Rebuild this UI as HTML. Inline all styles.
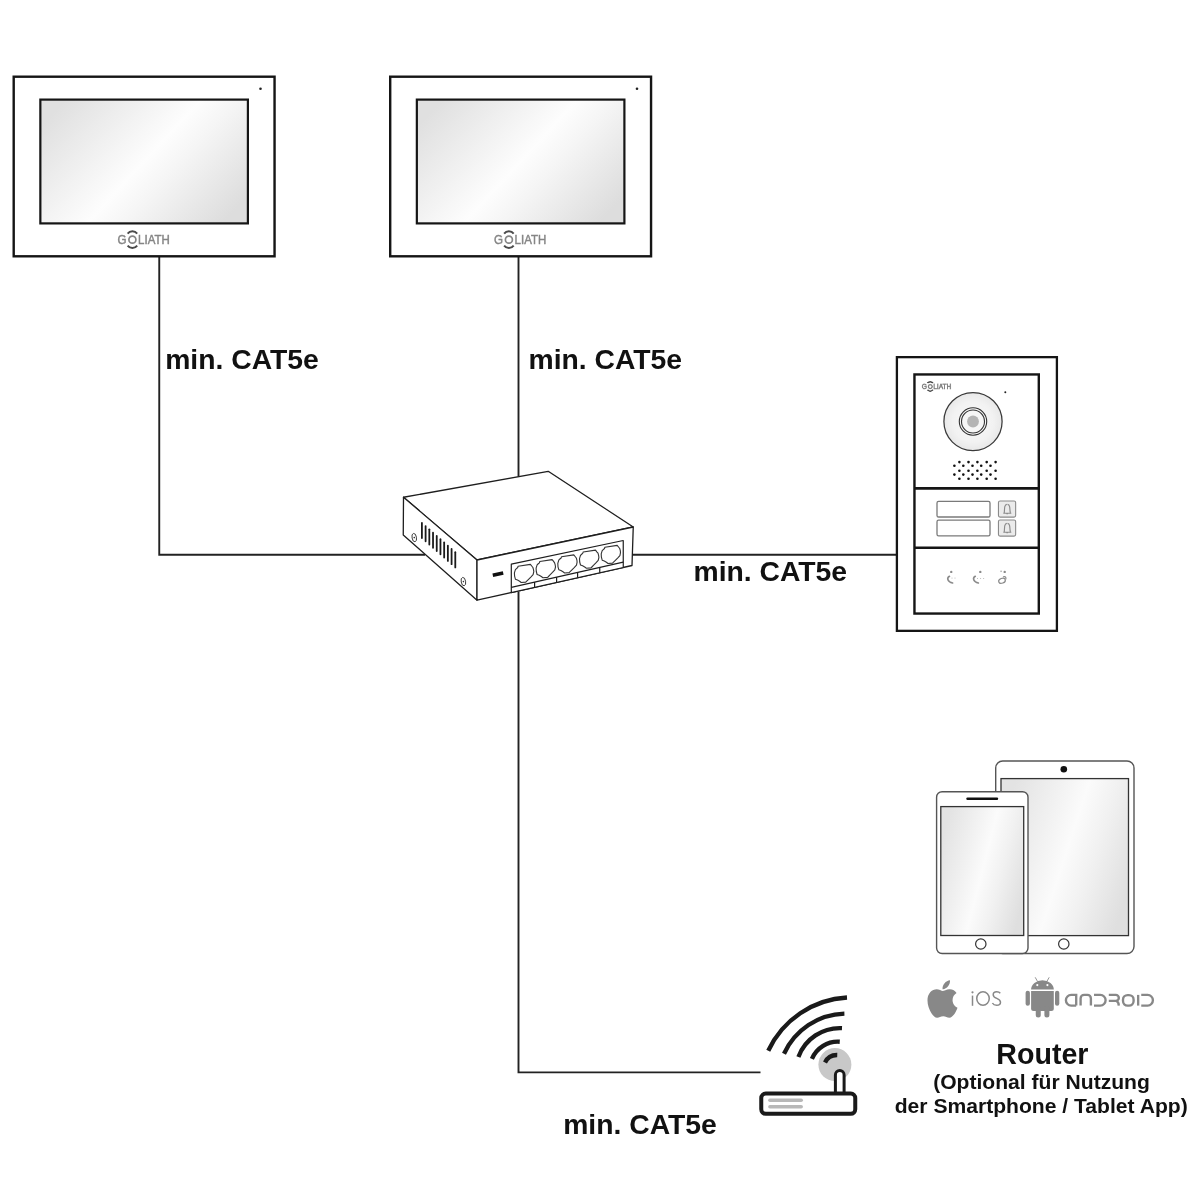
<!DOCTYPE html>
<html><head><meta charset="utf-8">
<style>
html,body{margin:0;padding:0;background:#fff;width:1200px;height:1200px;overflow:hidden}
svg{position:absolute;left:0;top:0;will-change:transform}
text{font-family:"Liberation Sans",sans-serif}
</style></head><body>
<svg width="1200" height="1200" viewBox="0 0 1200 1200">
<defs>
<linearGradient id="scrm" x1="0" y1="0.225" x2="1" y2="0.775">
<stop offset="0" stop-color="#e0e0e0"/><stop offset="0.36" stop-color="#f5f5f5"/><stop offset="0.5" stop-color="#fdfdfd"/><stop offset="0.64" stop-color="#f5f5f5"/><stop offset="1" stop-color="#dddddd"/>
</linearGradient>
<linearGradient id="scr" x1="0" y1="0.3" x2="1" y2="0.7">
<stop offset="0" stop-color="#e3e3e3"/><stop offset="0.3" stop-color="#f1f1f1"/><stop offset="0.5" stop-color="#fbfbfb"/><stop offset="0.7" stop-color="#f1f1f1"/><stop offset="1" stop-color="#dfdfdf"/>
</linearGradient>
<radialGradient id="cam" cx="0.5" cy="0.5" r="0.5">
<stop offset="0" stop-color="#fafafa"/><stop offset="0.7" stop-color="#f2f2f2"/><stop offset="1" stop-color="#e8e8e8"/>
</radialGradient>
<g id="logo">
<text x="117.6" y="243.8" font-size="12.6" fill="#858585" stroke="#858585" stroke-width="0.45" textLength="9.0" lengthAdjust="spacingAndGlyphs">G</text>
<circle cx="132.4" cy="239.7" r="3.5" fill="none" stroke="#858585" stroke-width="1.7"/>
<path d="M127.61,233.6 A6,6 0 0 1 137.19,233.6" fill="none" stroke="#4a4a4a" stroke-width="1.9"/>
<path d="M127.61,245.6 A6,6 0 0 0 137.19,245.6" fill="none" stroke="#4a4a4a" stroke-width="1.9"/>
<text x="138.1" y="243.8" font-size="12.6" fill="#858585" stroke="#858585" stroke-width="0.45" textLength="31.7" lengthAdjust="spacingAndGlyphs">LIATH</text>
</g>
<g id="logo2">
<text x="117.6" y="243.8" font-size="12.6" fill="#808080" stroke="#808080" stroke-width="1.0" textLength="9.0" lengthAdjust="spacingAndGlyphs">G</text>
<circle cx="132.4" cy="239.7" r="3.4" fill="none" stroke="#808080" stroke-width="2.3"/>
<path d="M127.61,233.6 A6,6 0 0 1 137.19,233.6" fill="none" stroke="#4a4a4a" stroke-width="2.5"/>
<path d="M127.61,245.6 A6,6 0 0 0 137.19,245.6" fill="none" stroke="#4a4a4a" stroke-width="2.5"/>
<text x="138.1" y="243.8" font-size="12.6" fill="#808080" stroke="#808080" stroke-width="1.0" textLength="31.7" lengthAdjust="spacingAndGlyphs">LIATH</text>
</g>
</defs>

<!-- cables -->
<g stroke="#222" stroke-width="1.9" fill="none">
<polyline points="159.25,257 159.25,554.8 425,554.8"/>
<line x1="518.5" y1="257" x2="518.5" y2="476.5"/>
<line x1="633" y1="554.8" x2="897" y2="554.8"/>
<polyline points="518.5,592 518.5,1072.4 760.5,1072.4"/>
</g>

<!-- monitor 1 -->
<g id="mon1">
<rect x="13.7" y="76.7" width="260.85" height="179.6" fill="#fff" stroke="#151515" stroke-width="2.4"/>
<rect x="40.35" y="99.6" width="207.55" height="123.8" fill="url(#scrm)" stroke="#151515" stroke-width="2.2"/>
<circle cx="260.5" cy="88.8" r="1.3" fill="#222"/>
<use href="#logo"/>
</g>
<use href="#mon1" x="376.5" y="0"/>

<!-- labels -->
<g font-weight="bold" font-size="28.3" fill="#111">
<text x="165.2" y="368.7">min. CAT5e</text>
<text x="528.5" y="368.7">min. CAT5e</text>
<text x="693.5" y="580.8">min. CAT5e</text>
<text x="563.2" y="1134.2">min. CAT5e</text>
</g>
<g font-weight="bold" fill="#111" text-anchor="middle">
<text x="1042.4" y="1064" font-size="28.6">Router</text>
<text x="1041.5" y="1089.2" font-size="21.1">(Optional für Nutzung</text>
<text x="1041.2" y="1112.6" font-size="21.1">der Smartphone / Tablet App)</text>
</g>

<!-- switch -->
<g id="switch" stroke="#1e1e1e" stroke-width="1.3" fill="#fff" stroke-linejoin="round">
<polygon points="403.5,497.25 548.2,471.3 633.25,527 477,560"/>
<polygon points="403.5,497.25 477,560 477,600.2 403.25,535"/>
<polygon points="477,560 633.25,527 632,565.5 477,600.2"/>
<polygon points="511.3,564.2 623.25,540.5 623.25,567.5 511.3,592.6" stroke-width="1.2"/>
<line x1="511.3" y1="587.3" x2="623.25" y2="562.2" stroke-width="1.2"/>
<g stroke-width="1.2">
<line x1="534.6" y1="582.1" x2="534.6" y2="587.3"/><line x1="556.6" y1="577.1" x2="556.6" y2="582.4"/><line x1="577.6" y1="572.4" x2="577.6" y2="577.7"/><line x1="599.75" y1="567.5" x2="599.75" y2="572.7"/>
</g>
<g stroke="#333" stroke-width="1.1" fill="#fff">
<polygon points="518.1,566.2 530.4,564.4 531.7,566.0 532.9,567.5 533.5,569.6 533.8,571.7 533.1,574.6 530.8,577.1 528.3,579.6 526.2,581.7 525.8,582.1 521.2,582.5 519.6,581.2 517.5,580.0 515.4,579.2 514.6,576.2 514.4,572.9 515.4,569.6 516.2,568.8 517.7,567.5"/>
<polygon points="539.8,561.5 552.1,559.6 553.4,561.2 554.6,562.8 555.2,564.9 555.5,567.0 554.8,569.9 552.5,572.4 550.0,574.9 548.0,577.0 547.5,577.4 543.0,577.8 541.3,576.5 539.2,575.2 537.1,574.5 536.3,571.5 536.1,568.1 537.1,564.9 538.0,564.0 539.4,562.8"/>
<polygon points="561.5,556.8 573.8,554.9 575.1,556.5 576.3,558.0 576.9,560.1 577.1,562.2 576.5,565.1 574.2,567.6 571.7,570.1 569.6,572.2 569.2,572.6 564.6,573.0 563.0,571.8 560.9,570.5 558.8,569.7 558.0,566.8 557.8,563.4 558.8,560.1 559.6,559.2 561.1,558.0"/>
<polygon points="583.2,552.0 595.5,550.1 596.8,551.8 598.0,553.2 598.6,555.4 598.9,557.5 598.2,560.4 595.9,562.9 593.4,565.4 591.4,567.5 590.9,567.9 586.4,568.2 584.7,567.0 582.6,565.8 580.5,565.0 579.7,562.0 579.5,558.6 580.5,555.4 581.4,554.5 582.8,553.2"/>
<polygon points="604.9,547.2 617.2,545.4 618.5,547.0 619.7,548.5 620.3,550.6 620.5,552.7 619.9,555.6 617.6,558.1 615.1,560.6 613.0,562.7 612.6,563.1 608.0,563.5 606.4,562.2 604.3,561.0 602.2,560.2 601.4,557.2 601.2,553.9 602.2,550.6 603.0,549.8 604.5,548.5"/>
</g>
<line x1="492.8" y1="575.3" x2="503.2" y2="573" stroke="#111" stroke-width="3.6"/>
<g stroke="#1a1a1a" stroke-width="1.8" stroke-linecap="round">
<line x1="421.90" y1="522.80" x2="421.90" y2="538.00"/><line x1="425.61" y1="526.07" x2="425.61" y2="541.27"/><line x1="429.32" y1="529.34" x2="429.32" y2="544.54"/><line x1="433.03" y1="532.61" x2="433.03" y2="547.81"/><line x1="436.74" y1="535.88" x2="436.74" y2="551.08"/><line x1="440.45" y1="539.15" x2="440.45" y2="554.35"/><line x1="444.16" y1="542.42" x2="444.16" y2="557.62"/><line x1="447.87" y1="545.69" x2="447.87" y2="560.89"/><line x1="451.58" y1="548.96" x2="451.58" y2="564.16"/><line x1="455.29" y1="552.23" x2="455.29" y2="567.43"/>
</g>
<g stroke="#333" stroke-width="0.9" fill="none">
<ellipse cx="414.25" cy="537.6" rx="2.2" ry="4.2" transform="rotate(-10 414.25 537.6)"/>
<ellipse cx="463.4" cy="581.6" rx="2.2" ry="4.2" transform="rotate(-10 463.4 581.6)"/>
</g>
<circle cx="414.25" cy="537.6" r="0.8" fill="#333" stroke="none"/>
<circle cx="463.4" cy="581.6" r="0.8" fill="#333" stroke="none"/>
</g>

<!-- door station -->
<g id="door">
<rect x="896.9" y="357.15" width="160" height="273.7" fill="#fff" stroke="#151515" stroke-width="2.3"/>
<rect x="914.45" y="374.45" width="124.35" height="239.1" fill="#fff" stroke="#151515" stroke-width="2.4"/>
<line x1="914" y1="488.35" x2="1039" y2="488.35" stroke="#151515" stroke-width="2.6"/>
<line x1="914" y1="547.7" x2="1039" y2="547.7" stroke="#151515" stroke-width="2.6"/>
<circle cx="973" cy="421.6" r="29.1" fill="url(#cam)" stroke="#3a3a3a" stroke-width="1.25"/>
<circle cx="973" cy="421.5" r="13.7" fill="#f6f6f6" stroke="#333" stroke-width="1.1"/>
<circle cx="973" cy="421.5" r="11.5" fill="#f6f6f6" stroke="#333" stroke-width="1.1"/>
<circle cx="973" cy="421.5" r="5.9" fill="#b4b4b4"/>
<circle cx="1005.3" cy="392.3" r="1" fill="#222"/>
<use href="#logo2" transform="translate(856.06 252.28) scale(0.56)"/>
<g fill="#111"><circle cx="959.4" cy="462.10" r="1.3"/><circle cx="968.5" cy="462.10" r="1.3"/><circle cx="977.4" cy="462.10" r="1.3"/><circle cx="986.7" cy="462.10" r="1.3"/><circle cx="995.6" cy="462.10" r="1.3"/><circle cx="954.4" cy="465.80" r="1.3"/><circle cx="963.3" cy="465.80" r="1.3"/><circle cx="972.5" cy="465.80" r="1.3"/><circle cx="981.2" cy="465.80" r="1.3"/><circle cx="990.5" cy="465.80" r="1.3"/><circle cx="959.4" cy="470.80" r="1.3"/><circle cx="968.5" cy="470.80" r="1.3"/><circle cx="977.4" cy="470.80" r="1.3"/><circle cx="986.7" cy="470.80" r="1.3"/><circle cx="995.6" cy="470.80" r="1.3"/><circle cx="954.4" cy="474.60" r="1.3"/><circle cx="963.3" cy="474.60" r="1.3"/><circle cx="972.5" cy="474.60" r="1.3"/><circle cx="981.2" cy="474.60" r="1.3"/><circle cx="990.5" cy="474.60" r="1.3"/><circle cx="959.4" cy="478.75" r="1.3"/><circle cx="968.5" cy="478.75" r="1.3"/><circle cx="977.4" cy="478.75" r="1.3"/><circle cx="986.7" cy="478.75" r="1.3"/><circle cx="995.6" cy="478.75" r="1.3"/></g>
<g fill="#fff" stroke="#7a7a7a" stroke-width="1.3">
<rect x="937" y="501.3" width="53" height="15.7" rx="1.6"/>
<rect x="937" y="520.1" width="53" height="15.7" rx="1.6"/>
</g>
<g fill="#ebebeb" stroke="#8a8a8a" stroke-width="1.1">
<rect x="998.45" y="500.95" width="17.2" height="16.2" rx="1.6"/>
<rect x="998.45" y="519.95" width="17.2" height="16.2" rx="1.6"/>
</g>
<g fill="none" stroke="#8a8a8a" stroke-width="1.15">
<path d="M1003.3,513.2 L1011.3,513.2 M1004.2,512.8 C1004.6,511 1004.4,508 1004.8,506.6 C1005.2,505 1006.4,504.4 1006.9,504.4 M1007.5,504.4 C1008,504.4 1009.3,505 1009.6,506.6 C1010,508 1009.8,511 1010.4,512.8 M1006.4,513.6 L1007.9,513.6"/>
<path d="M1003.3,532.2 L1011.3,532.2 M1004.2,531.8 C1004.6,530 1004.4,527 1004.8,525.6 C1005.2,524 1006.4,523.4 1006.9,523.4 M1007.5,523.4 C1008,523.4 1009.3,524 1009.6,525.6 C1010,527 1009.8,530 1010.4,531.8 M1006.4,532.6 L1007.9,532.6"/>
</g>
<g fill="#8a8a8a">
<circle cx="951.25" cy="571.9" r="1.2"/><circle cx="980.3" cy="571.9" r="1.2"/><circle cx="1004.7" cy="571.9" r="1.2"/>
</g>
<g fill="none" stroke="#8a8a8a" stroke-width="1.2" stroke-linecap="round">
<path d="M949.5,576.3 C946.6,577.8 947.2,581.8 952.6,583" stroke-width="1.6"/>
<path d="M975.3,576.3 C972.4,577.8 973,581.8 978.4,583" stroke-width="1.6"/>
<ellipse cx="1002" cy="580.8" rx="3.4" ry="2.4" transform="rotate(-20 1002 580.8)"/>
<path d="M1003.5,576.8 C1005.5,576 1006.3,577.5 1005.8,579"/>
</g>
<g fill="#aaa">
<circle cx="952" cy="578.1" r="0.5"/><circle cx="955" cy="578.1" r="0.5"/>
<circle cx="977.5" cy="578.4" r="0.5"/><circle cx="980.6" cy="578.4" r="0.5"/><circle cx="983.7" cy="578.4" r="0.5"/>
</g>
<path d="M1000.3,571.3 h1.6 M1001.1,570.5 v1.6" stroke="#999" stroke-width="0.6"/>
</g>

<!-- phone / tablet -->
<g id="devices">
<rect x="995.7" y="761" width="138.3" height="192.5" rx="7" fill="#fff" stroke="#555" stroke-width="1.4"/>
<rect x="1001" y="778.6" width="127.5" height="157" fill="url(#scr)" stroke="#333" stroke-width="1.3"/>
<circle cx="1063.8" cy="769.2" r="3.3" fill="#111"/>
<circle cx="1063.8" cy="944" r="5.2" fill="none" stroke="#333" stroke-width="1.2"/>
<rect x="936.6" y="791.7" width="91.4" height="161.8" rx="5.5" fill="#fff" stroke="#555" stroke-width="1.4"/>
<rect x="940.8" y="806.6" width="82.9" height="128.9" fill="url(#scr)" stroke="#333" stroke-width="1.3"/>
<line x1="967.5" y1="798.8" x2="997" y2="798.8" stroke="#111" stroke-width="2.4" stroke-linecap="round"/>
<circle cx="980.8" cy="944" r="5.2" fill="none" stroke="#333" stroke-width="1.2"/>
</g>

<!-- router -->
<g id="router">
<circle cx="834.9" cy="1064.6" r="16.5" fill="#c8c8c8"/>
<g fill="none" stroke="#1a1a1a" stroke-width="4.3"><path d="M768.25,1050.75 A92.5,92.5 0 0 1 847.00,997.50"/><path d="M784.00,1053.75 A68.4,68.4 0 0 1 844.40,1013.60"/><path d="M798.40,1056.90 A44.2,44.2 0 0 1 842.00,1028.10"/><path d="M811.90,1058.90 A28.0,28.0 0 0 1 839.75,1041.75"/><path d="M825.00,1062.50 A13.2,13.2 0 0 1 837.25,1055.00"/></g>
<rect x="835.4" y="1070.6" width="8.7" height="30" rx="4.35" fill="#fff" stroke="#1a1a1a" stroke-width="3"/>
<rect x="761.25" y="1093.5" width="94" height="20.3" rx="4.5" fill="#fff" stroke="#1a1a1a" stroke-width="4"/>
<g stroke="#b8b8b8" stroke-width="3.5" stroke-linecap="round">
<line x1="769.9" y1="1100.3" x2="801.2" y2="1100.3"/>
<line x1="769.9" y1="1106.7" x2="801.2" y2="1106.7"/>
</g>
</g>

<!-- OS logos -->
<g id="oslogos" fill="#888">
<path transform="translate(927.18 977.57) scale(0.0797 0.0837)" d="M318.7 268.7c-.2-36.7 16.4-64.4 50-84.8-18.8-26.9-47.2-41.7-84.7-44.6-35.5-2.8-74.3 20.7-88.5 20.7-15 0-49.4-19.7-76.4-19.7C63.3 141.2 4 184.8 4 273.5q0 39.3 14.4 81.2c12.8 36.7 59 126.7 107.2 125.2 25.2-.6 43-17.9 75.8-17.9 31.8 0 48.3 17.9 76.4 17.9 48.6-.7 90.4-82.5 102.6-119.3-65.2-30.7-61.7-90-61.7-91.9zm-56.6-164.2c27.3-32.4 24.8-61.9 24-72.5-24.1 1.4-52 16.4-67.9 34.9-17.5 19.8-27.8 44.3-25.4 71.9 26.1 2 49.9-11.4 69.3-34.3z"/>
<circle cx="972.5" cy="992.3" r="1.1"/>
<g fill="none" stroke="#888" stroke-width="1.5">
<line x1="972.5" y1="995.6" x2="972.5" y2="1005.8"/>
<ellipse cx="983" cy="998.5" rx="6.25" ry="6.75"/>
<path d="M1000.3,993.2 C999.5,992.2 998.2,991.75 996.7,991.75 C994.5,991.75 993.2,993 993.2,994.7 C993.2,996.9 995,997.7 996.8,998.4 C998.8,999.2 1000.5,1000.1 1000.5,1002.2 C1000.5,1004.1 998.9,1005.25 996.7,1005.25 C994.7,1005.25 993.2,1004.4 992.4,1003"/>
</g>
<path d="M1031.1,989.5 A11.35,9.3 0 0 1 1053.8,989.5 Z"/>
<g stroke="#888" stroke-width="0.9"><line x1="1035.2" y1="977.3" x2="1037.6" y2="981.6"/><line x1="1049.2" y1="977.3" x2="1046.8" y2="981.6"/></g>
<circle cx="1037.3" cy="985.1" r="1.1" fill="#fff"/><circle cx="1047.4" cy="985.1" r="1.1" fill="#fff"/>
<path d="M1031.1,990.9 H1053.8 V1008.6 Q1053.8,1011.1 1051.3,1011.1 H1033.6 Q1031.1,1011.1 1031.1,1008.6 Z"/>
<rect x="1025.6" y="990.7" width="4.3" height="15.1" rx="2.15"/>
<rect x="1055" y="990.7" width="4.3" height="15.1" rx="2.15"/>
<rect x="1035.75" y="1006" width="5" height="11.5" rx="2.5"/>
<rect x="1044.4" y="1006" width="5" height="11.5" rx="2.5"/>
<g fill="none" stroke="#888" stroke-width="2.35">
<path d="M1076.2,1005.6 V994.9 H1071.2 A5.3,5.35 0 0 0 1071.2,1005.6 H1076.2"/>
<path d="M1080.6,1005.6 V998.4 A3.5,3.5 0 0 1 1084.1,994.9 H1087.4 A3.5,3.5 0 0 1 1090.9,998.4 V1005.6"/>
<path d="M1094,994.9 H1100.3 A5.3,5.35 0 0 1 1100.3,1005.6 H1094"/>
<path d="M1108.8,994.9 H1115.8 A3,2.95 0 0 1 1115.8,1000.85 H1108.8 M1116.3,1000.85 Q1118.6,1001.5 1118.8,1005.6"/>
<rect x="1123" y="995.1" width="10.6" height="10.6" rx="4.6"/>
<line x1="1138.15" y1="994.9" x2="1138.15" y2="1005.6"/>
<path d="M1141.25,994.9 H1147.6 A5.3,5.35 0 0 1 1147.6,1005.6 H1141.25"/>
</g>
</g>

</svg>
</body></html>
